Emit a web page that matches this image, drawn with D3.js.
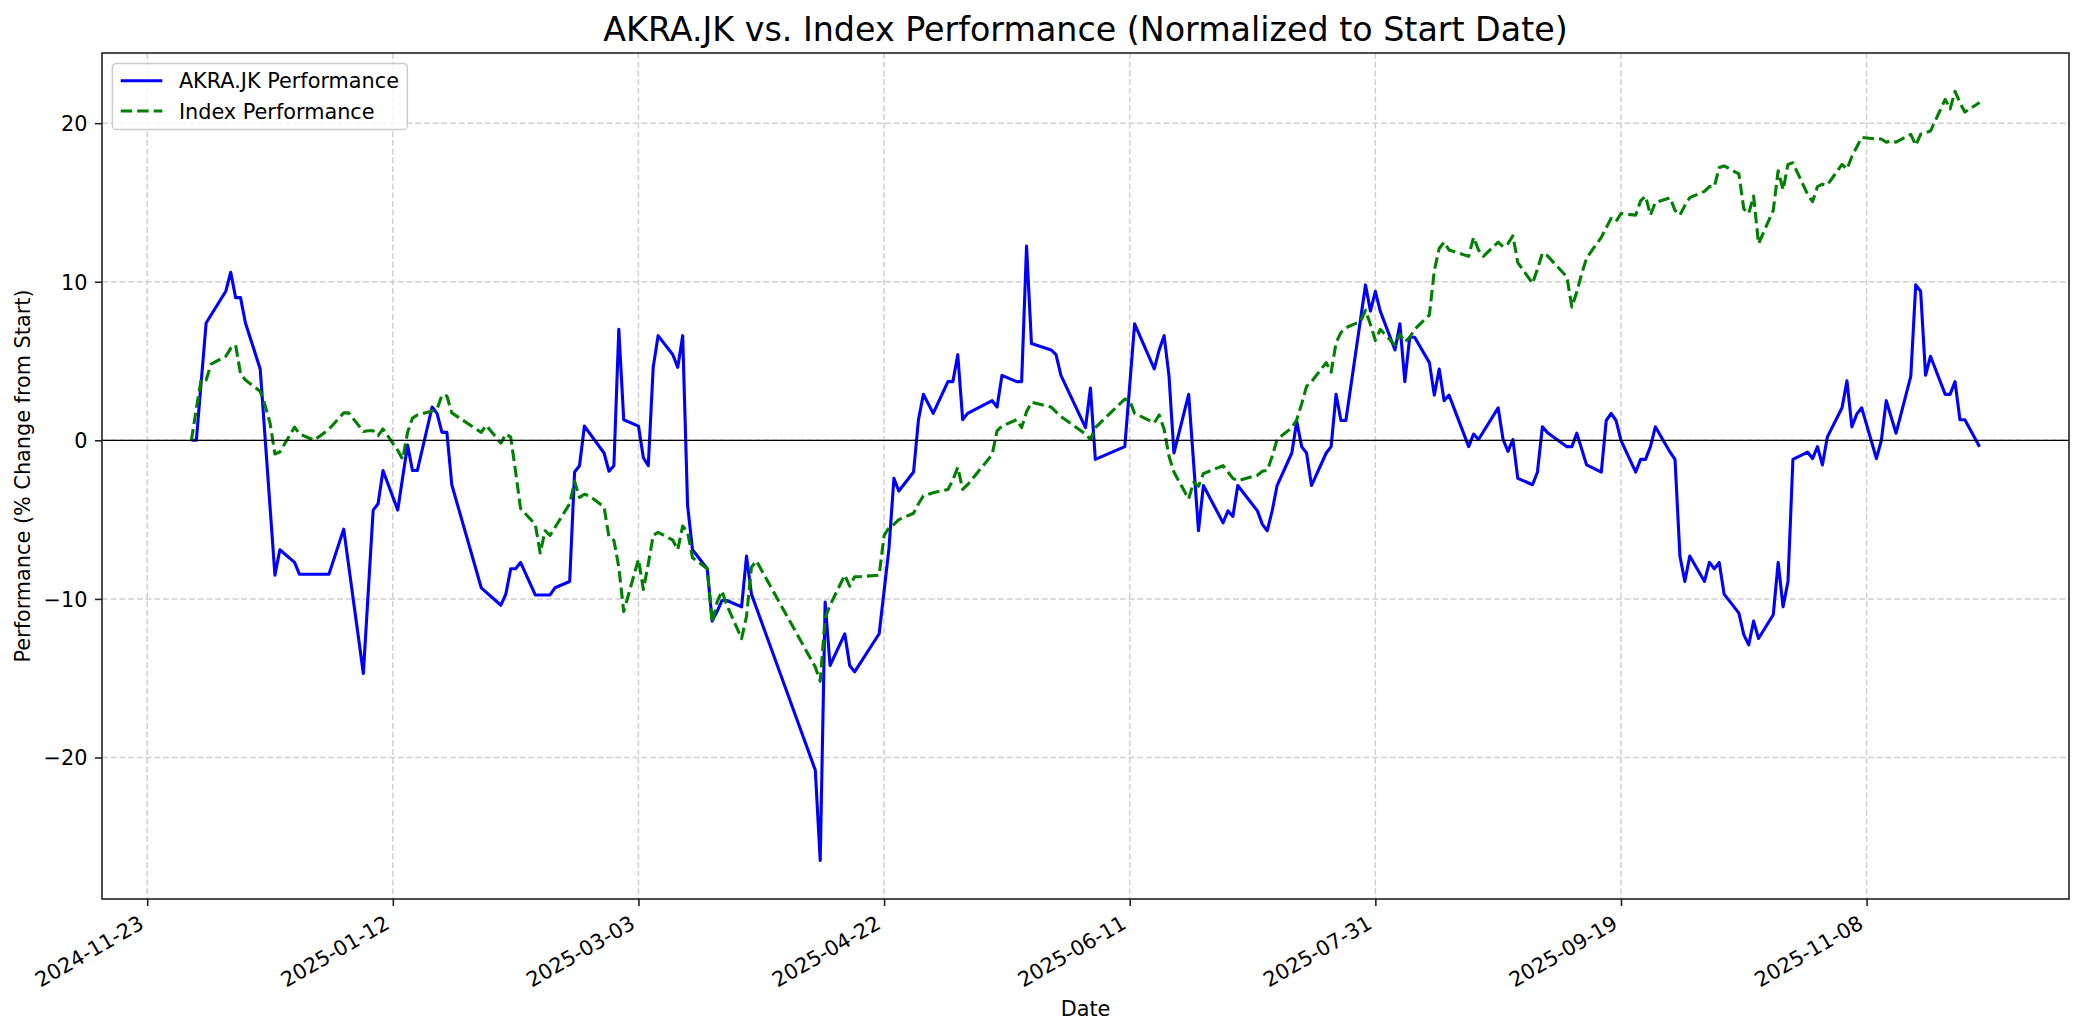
<!DOCTYPE html>
<html><head><meta charset="utf-8">
<script src="https://cdn.jsdelivr.net/npm/d3@7"></script>
<style>
body{margin:0;background:#fff;}
svg{display:block;}
text{font-family:"DejaVu Sans","Liberation Sans",sans-serif;fill:#000;}
</style>
</head><body>
<script>
// ---------------- DATA ----------------
const akraDates = [
"2024-12-02","2024-12-03","2024-12-05","2024-12-06","2024-12-09","2024-12-10","2024-12-11","2024-12-12","2024-12-13","2024-12-16",
"2024-12-19","2024-12-20","2024-12-23","2024-12-24","2024-12-30","2025-01-02","2025-01-06","2025-01-08","2025-01-09","2025-01-10",
"2025-01-13","2025-01-15","2025-01-16","2025-01-17","2025-01-20","2025-01-21","2025-01-22","2025-01-23","2025-01-24","2025-01-30",
"2025-02-03","2025-02-04","2025-02-05","2025-02-06","2025-02-07","2025-02-10","2025-02-13","2025-02-14","2025-02-17","2025-02-18",
"2025-02-19","2025-02-20","2025-02-24","2025-02-25","2025-02-26","2025-02-27","2025-02-28","2025-03-03","2025-03-04","2025-03-05",
"2025-03-06","2025-03-07","2025-03-10","2025-03-11","2025-03-12","2025-03-13","2025-03-14","2025-03-17","2025-03-18","2025-03-19",
"2025-03-20","2025-03-21","2025-03-24","2025-03-25","2025-03-26","2025-04-08","2025-04-09","2025-04-10","2025-04-11","2025-04-14",
"2025-04-15","2025-04-16","2025-04-21","2025-04-22","2025-04-23","2025-04-24","2025-04-25","2025-04-28","2025-04-29","2025-04-30",
"2025-05-02","2025-05-05","2025-05-06","2025-05-07","2025-05-08","2025-05-09","2025-05-14","2025-05-15","2025-05-16","2025-05-19",
"2025-05-20","2025-05-21","2025-05-22","2025-05-26","2025-05-27","2025-05-28","2025-06-02","2025-06-03","2025-06-04","2025-06-10",
"2025-06-12","2025-06-16","2025-06-17","2025-06-18","2025-06-19","2025-06-20","2025-06-23","2025-06-25","2025-06-26","2025-06-30",
"2025-07-01","2025-07-02","2025-07-03","2025-07-07","2025-07-08","2025-07-09","2025-07-10","2025-07-11","2025-07-14","2025-07-15",
"2025-07-16","2025-07-17","2025-07-18","2025-07-21","2025-07-22","2025-07-23","2025-07-24","2025-07-25","2025-07-29","2025-07-30",
"2025-07-31","2025-08-01","2025-08-04","2025-08-05","2025-08-06","2025-08-07","2025-08-08","2025-08-11","2025-08-12","2025-08-13",
"2025-08-14","2025-08-15","2025-08-19","2025-08-20","2025-08-21","2025-08-25","2025-08-26","2025-08-27","2025-08-28","2025-08-29",
"2025-09-01","2025-09-02","2025-09-03","2025-09-04","2025-09-08","2025-09-09","2025-09-10","2025-09-12","2025-09-15","2025-09-16",
"2025-09-17","2025-09-18","2025-09-19","2025-09-22","2025-09-23","2025-09-24","2025-09-25","2025-09-26","2025-09-29","2025-09-30",
"2025-10-01","2025-10-02","2025-10-03","2025-10-06","2025-10-07","2025-10-08","2025-10-09","2025-10-10","2025-10-13","2025-10-14",
"2025-10-15","2025-10-16","2025-10-17","2025-10-20","2025-10-21","2025-10-22","2025-10-23","2025-10-24","2025-10-27","2025-10-28",
"2025-10-29","2025-10-30","2025-10-31","2025-11-03","2025-11-04","2025-11-05","2025-11-06","2025-11-07","2025-11-10","2025-11-11",
"2025-11-12","2025-11-14","2025-11-17","2025-11-18","2025-11-19","2025-11-20","2025-11-21","2025-11-24","2025-11-25","2025-11-26",
"2025-11-27","2025-11-28","2025-12-01"
];
const akraValues = [
0,0,7.4,7.9,9.4,10.6,9.0,9.0,7.4,4.5,
-8.5,-6.9,-7.7,-8.45,-8.45,-5.6,-14.7,-4.4,-4.0,-1.9,
-4.4,-0.3,-1.9,-1.9,2.1,1.7,0.5,0.5,-2.8,-9.3,
-10.4,-9.7,-8.1,-8.1,-7.7,-9.75,-9.75,-9.3,-8.9,-2.0,
-1.6,0.9,-0.8,-1.95,-1.6,7.0,1.3,0.9,-1.1,-1.6,
4.6,6.6,5.4,4.6,6.6,-4.1,-6.9,-8.1,-11.4,-10.8,
-10.1,-10.1,-10.5,-7.3,-9.7,-20.8,-26.5,-10.2,-14.2,-12.2,
-14.2,-14.6,-12.2,-9.5,-6.8,-2.4,-3.2,-2.0,1.3,2.9,
1.7,3.7,3.7,5.4,1.3,1.7,2.5,2.1,4.1,3.7,
3.7,12.25,6.1,5.7,5.4,4.1,0.8,3.3,-1.2,-0.4,
7.35,4.5,5.7,6.6,4.05,-0.8,2.9,-5.7,-2.85,-5.2,
-4.45,-4.8,-2.85,-4.45,-5.3,-5.7,-4.45,-2.85,-0.8,1.2,
-0.4,-0.8,-2.85,-0.8,-0.4,2.9,1.25,1.25,9.8,8.15,
9.4,8.15,5.7,7.35,3.7,6.5,6.5,4.9,2.85,4.5,
2.5,2.85,-0.4,0.4,0.05,2.05,0.05,-0.7,0.05,-2.4,
-2.8,-2.0,0.85,0.5,-0.4,-0.4,0.45,-1.55,-2.0,1.25,
1.7,1.25,0,-2.0,-1.2,-1.2,-0.4,0.85,-0.75,-1.2,
-7.3,-8.9,-7.3,-8.9,-7.7,-8.1,-7.7,-9.7,-10.9,-12.25,
-12.9,-11.4,-12.5,-11.0,-7.7,-10.5,-8.9,-1.2,-0.75,-1.15,
-0.4,-1.55,0.2,2.05,3.75,0.85,1.65,2.05,-1.15,0,
2.5,0.45,4.05,9.8,9.4,4.1,5.3,2.9,2.9,3.7,
1.3,1.3,-0.4
];

const indexDates = [
"2024-12-02","2024-12-03","2024-12-04","2024-12-05","2024-12-06","2024-12-09","2024-12-10","2024-12-11","2024-12-12","2024-12-13",
"2024-12-16","2024-12-17","2024-12-18","2024-12-19","2024-12-20","2024-12-23","2024-12-24","2024-12-27","2024-12-30","2025-01-02",
"2025-01-03","2025-01-06","2025-01-07","2025-01-08","2025-01-09","2025-01-10","2025-01-13","2025-01-14","2025-01-15","2025-01-16",
"2025-01-17","2025-01-20","2025-01-21","2025-01-22","2025-01-23","2025-01-24","2025-01-30","2025-01-31","2025-02-03","2025-02-04",
"2025-02-05","2025-02-06","2025-02-07","2025-02-10","2025-02-11","2025-02-12","2025-02-13","2025-02-14","2025-02-17","2025-02-18",
"2025-02-19","2025-02-20","2025-02-21","2025-02-24","2025-02-25","2025-02-26","2025-02-27","2025-02-28","2025-03-03","2025-03-04",
"2025-03-05","2025-03-06","2025-03-07","2025-03-10","2025-03-11","2025-03-12","2025-03-13","2025-03-14","2025-03-17","2025-03-18",
"2025-03-19","2025-03-20","2025-03-21","2025-03-24","2025-03-25","2025-03-26","2025-03-27","2025-04-08","2025-04-09","2025-04-10",
"2025-04-11","2025-04-14","2025-04-15","2025-04-16","2025-04-17","2025-04-21","2025-04-22","2025-04-23","2025-04-24","2025-04-25",
"2025-04-28","2025-04-29","2025-04-30","2025-05-02","2025-05-05","2025-05-06","2025-05-07","2025-05-08","2025-05-09","2025-05-14",
"2025-05-15","2025-05-16","2025-05-19","2025-05-20","2025-05-21","2025-05-22","2025-05-26","2025-05-27","2025-05-28","2025-06-02",
"2025-06-03","2025-06-04","2025-06-10","2025-06-11","2025-06-12","2025-06-16","2025-06-17","2025-06-18","2025-06-19","2025-06-20",
"2025-06-23","2025-06-24","2025-06-25","2025-06-26","2025-06-30","2025-07-01","2025-07-02","2025-07-03","2025-07-07","2025-07-08",
"2025-07-09","2025-07-10","2025-07-11","2025-07-14","2025-07-15","2025-07-16","2025-07-17","2025-07-18","2025-07-21","2025-07-22",
"2025-07-23","2025-07-24","2025-07-25","2025-07-28","2025-07-29","2025-07-30","2025-07-31","2025-08-01","2025-08-04","2025-08-05",
"2025-08-06","2025-08-07","2025-08-08","2025-08-11","2025-08-12","2025-08-13","2025-08-14","2025-08-15","2025-08-19","2025-08-20",
"2025-08-21","2025-08-22","2025-08-25","2025-08-26","2025-08-27","2025-08-28","2025-08-29","2025-09-01","2025-09-02","2025-09-03",
"2025-09-04","2025-09-08","2025-09-09","2025-09-10","2025-09-11","2025-09-12","2025-09-15","2025-09-16","2025-09-17","2025-09-18",
"2025-09-19","2025-09-22","2025-09-23","2025-09-24","2025-09-25","2025-09-26","2025-09-29","2025-09-30","2025-10-01","2025-10-02",
"2025-10-03","2025-10-06","2025-10-07","2025-10-08","2025-10-09","2025-10-10","2025-10-13","2025-10-14","2025-10-15","2025-10-16",
"2025-10-17","2025-10-20","2025-10-21","2025-10-22","2025-10-23","2025-10-24","2025-10-27","2025-10-28","2025-10-29","2025-10-30",
"2025-10-31","2025-11-03","2025-11-04","2025-11-05","2025-11-06","2025-11-07","2025-11-10","2025-11-11","2025-11-12","2025-11-13",
"2025-11-14","2025-11-17","2025-11-18","2025-11-19","2025-11-20","2025-11-21","2025-11-24","2025-11-25","2025-11-26","2025-11-27",
"2025-11-28","2025-12-01"
];
const indexValues = [
0,2.0,3.85,3.8,4.8,5.3,5.8,6.0,4.2,3.8,
3.1,2.2,1.1,-0.86,-0.74,0.83,0.4,0.0,0.7,1.73,
1.73,0.56,0.6,0.6,0.3,0.72,-0.63,-1.2,0.5,1.4,
1.6,1.85,1.96,2.86,2.8,1.73,0.5,0.95,-0.18,0.4,
0.2,-2.0,-4.3,-5.3,-7.1,-5.7,-6.0,-5.5,-4.0,-2.6,
-3.6,-3.4,-3.5,-4.2,-6.1,-6.3,-8.0,-10.8,-7.5,-9.4,
-7.8,-6.0,-5.8,-6.3,-6.9,-5.4,-5.8,-7.4,-8.1,-11.5,
-10.2,-9.5,-10.4,-12.5,-11.1,-8.0,-7.6,-14.3,-15.2,-11.2,
-10.4,-8.5,-9.2,-8.6,-8.6,-8.5,-6.0,-5.5,-5.3,-5.0,
-4.6,-4.0,-3.5,-3.3,-3.1,-2.5,-1.7,-3.1,-2.8,-0.9,
0.6,0.9,1.3,0.8,1.8,2.4,2.1,1.8,1.5,0.4,
0.06,0.8,2.6,2.5,1.7,1.1,1.6,0.7,-1.0,-2.0,
-3.7,-2.65,-2.9,-2.1,-1.6,-2.0,-2.4,-2.55,-2.2,-1.95,
-1.9,-1.0,0.05,0.8,1.3,2.3,3.4,3.7,4.9,4.3,
6.15,6.8,7.1,7.5,8.2,7.3,6.3,7.0,6.0,6.7,
6.2,6.5,7.0,7.9,10.7,12.1,12.5,12.0,11.6,12.8,
12.0,11.6,12.5,12.2,12.4,12.9,11.2,9.9,10.8,11.8,
11.65,10.3,8.4,9.35,10.5,11.5,12.8,13.4,14.0,13.8,
14.3,14.2,15.1,15.4,14.2,15.0,15.3,14.5,14.2,14.8,
15.3,15.7,16.0,16.0,17.2,17.3,16.8,14.6,14.3,15.4,
12.4,14.5,17.0,15.8,17.4,17.5,15.5,15.05,16.0,16.15,
16.1,17.4,17.1,17.9,18.5,19.1,19.0,19.0,18.8,18.9,
18.8,19.3,18.6,19.3,19.4,19.5,21.5,20.9,22.0,21.3,
20.7,21.3
];

const xTickLabels = ["2024-11-23","2025-01-12","2025-03-03","2025-04-22","2025-06-11","2025-07-31","2025-09-19","2025-11-08"];
const yTickValues = [-20,-10,0,10,20];
const seriesNames = ["AKRA.JK Performance","Index Performance"];
const seriesColors = ["#0000ff","#008000"];
const titleText = "AKRA.JK vs. Index Performance (Normalized to Start Date)";
const xLabelText = "Date";
const yLabelText = "Performance (% Change from Start)";

// ---------------- CHART ----------------
const W = 2084, H = 1035;
const L = 102, R = 2069, T = 53, B = 899;
const FS = 20.8;

const parse = d3.utcParse("%Y-%m-%d");
const akra = akraDates.map((d,i)=>({date:parse(d), value:akraValues[i]}));
const idx = indexDates.map((d,i)=>({date:parse(d), value:indexValues[i]}));

const allDates = akra.concat(idx).map(d=>+d.date);
const dMin = d3.min(allDates), dMax = d3.max(allDates), dSpan = dMax - dMin;
const x = d3.scaleUtc()
  .domain([new Date(dMin - 0.05*dSpan), new Date(dMax + 0.05*dSpan)])
  .range([L, R]);
const allVals = akraValues.concat(indexValues);
const vMin = d3.min(allVals), vMax = d3.max(allVals), vSpan = vMax - vMin;
const y = d3.scaleLinear()
  .domain([vMin - 0.05*vSpan, vMax + 0.05*vSpan])
  .range([B, T]);

const svg = d3.select("body").append("svg").attr("width", W).attr("height", H);
svg.append("rect").attr("width", W).attr("height", H).attr("fill", "#fff");

const xTicks = xTickLabels.map(parse);

// grid
const grid = svg.append("g");
grid.selectAll("line.gx").data(xTicks).enter().append("line")
  .attr("x1", d=>x(d)).attr("x2", d=>x(d)).attr("y1", T).attr("y2", B)
  .attr("stroke", "#d0d0d0").attr("stroke-width", 1.5).attr("stroke-dasharray", "6,2.7");
grid.selectAll("line.gy").data(yTickValues).enter().append("line")
  .attr("x1", L).attr("x2", R).attr("y1", d=>y(d)).attr("y2", d=>y(d))
  .attr("stroke", "#d0d0d0").attr("stroke-width", 1.5).attr("stroke-dasharray", "6,2.7");

// clip
svg.append("clipPath").attr("id","clip").append("rect")
  .attr("x", L).attr("y", T).attr("width", R-L).attr("height", B-T);

const line = d3.line().x(d=>x(d.date)).y(d=>y(d.value));
const plot = svg.append("g").attr("clip-path", "url(#clip)");
plot.append("path").datum(akra).attr("d", line)
  .attr("fill","none").attr("stroke", seriesColors[0]).attr("stroke-width", 3.1)
  .attr("stroke-linejoin","round").attr("stroke-linecap","butt");
plot.append("path").datum(idx).attr("d", line)
  .attr("fill","none").attr("stroke", seriesColors[1]).attr("stroke-width", 3.1)
  .attr("stroke-dasharray","11.5,5").attr("stroke-linejoin","round");

// zero line
plot.append("line").attr("x1", L).attr("x2", R).attr("y1", y(0)).attr("y2", y(0))
  .attr("stroke", "#000").attr("stroke-width", 1.3);

// axes
const xAxis = d3.axisBottom(x).tickValues(xTicks).tickSize(7).tickSizeOuter(0)
  .tickFormat(d3.utcFormat("%Y-%m-%d"));
const gx = svg.append("g").attr("transform", `translate(0,${B})`).call(xAxis);
gx.select(".domain").remove();
gx.selectAll(".tick line").attr("stroke", "#222").attr("stroke-width", 1.6);
gx.selectAll(".tick text")
  .attr("font-size", FS).attr("font-family", "DejaVu Sans")
  .attr("fill", "#000")
  .attr("text-anchor", "end")
  .attr("x", null).attr("y", null).attr("dy", null)
  .attr("transform", "translate(-2.4,28.3) rotate(-30)");

const fmtY = d => d < 0 ? "\u2212" + Math.abs(d) : String(d);
const yAxis = d3.axisLeft(y).tickValues(yTickValues).tickSize(7).tickSizeOuter(0).tickFormat(fmtY);
const gy = svg.append("g").attr("transform", `translate(${L},0)`).call(yAxis);
gy.select(".domain").remove();
gy.selectAll(".tick line").attr("stroke", "#222").attr("stroke-width", 1.6);
gy.selectAll(".tick text")
  .attr("font-size", FS).attr("font-family", "DejaVu Sans").attr("fill", "#000")
  .attr("x", -14.6).attr("dy", "0.36em");

// spines
svg.append("rect").attr("x", L).attr("y", T).attr("width", R-L).attr("height", B-T)
  .attr("fill", "none").attr("stroke", "#222").attr("stroke-width", 1.6);

// title & labels
svg.append("text").attr("x", (L+R)/2).attr("y", 40.5).attr("text-anchor", "middle")
  .attr("font-size", 33.3).text(titleText);
svg.append("text").attr("x", (L+R)/2).attr("y", 1016).attr("text-anchor", "middle")
  .attr("font-size", FS).text(xLabelText);
svg.append("text").attr("transform", `translate(30,${(T+B)/2}) rotate(-90)`)
  .attr("text-anchor", "middle").attr("font-size", FS).text(yLabelText);

// legend
const lg = svg.append("g");
const lgX = L + 10.4, lgY = T + 10.4;
const rowC = [lgY + 17.3, lgY + 47.6];
const lgTexts = [];
const lgBox = lg.append("rect").attr("x", lgX).attr("y", lgY).attr("rx", 4).attr("ry", 4)
  .attr("fill", "#fff").attr("fill-opacity", 0.8).attr("stroke", "#cccccc").attr("stroke-width", 1.5);
seriesNames.forEach((name, i) => {
  const l = lg.append("line").attr("x1", lgX + 8.3).attr("x2", lgX + 8.3 + 41.6)
    .attr("y1", rowC[i]).attr("y2", rowC[i])
    .attr("stroke", seriesColors[i]).attr("stroke-width", 3.1);
  if (i === 1) l.attr("stroke-dasharray", "11.5,5");
  const t = lg.append("text").attr("x", lgX + 8.3 + 41.6 + 16.6).attr("y", rowC[i] + 7.5)
    .attr("font-size", FS).text(name);
  lgTexts.push(t);
});
const maxW = d3.max(lgTexts, t => t.node().getComputedTextLength());
lgBox.attr("width", 8.3 + 41.6 + 16.6 + maxW + 8.3).attr("height", 66);
</script>
</body></html>
